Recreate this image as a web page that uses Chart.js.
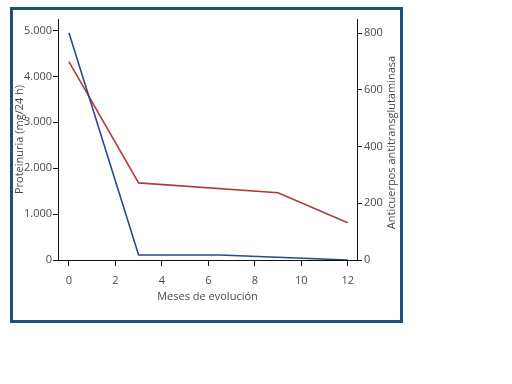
<!DOCTYPE html>
<html>
<head>
<meta charset="utf-8">
<script src="https://cdn.jsdelivr.net/npm/chart.js@4"></script>
<style>
  html, body { margin: 0; padding: 0; background: #fff; }
  #wrap { position: relative; width: 512px; height: 384px; }
  #frame { position: absolute; left: 10px; top: 7px; width: 387px; height: 310px; border: 3px solid #1d5277; }
  canvas { position: absolute; left: 0; top: 0; }
</style>
</head>
<body>
<div id="wrap">
  <div id="frame"></div>
  <canvas id="myChart" width="512" height="384"></canvas>
</div>
<script>
// Data
const proteinMonths = [0, 3, 6.5, 12];
const proteinValues = [4950, 110, 110, 0];          // mg/24 h (left axis)
const antibodyMonths = [0, 3, 9, 12];
const antibodyValues = [700, 272, 237, 131];       // right axis
const monthTicks = [0, 2, 4, 6, 8, 10, 12];
const proteinTicks = [0, 1000, 2000, 3000, 4000, 5000];
const antibodyTicks = [0, 200, 400, 600, 800];

const FONT = "'Open Sans', 'DejaVu Sans', sans-serif";
const labelColor = '#4a4a4a';

function toPoints(xs, ys) {
    return xs.map((x, i) => ({ x: x, y: ys[i] }));
}

// thousands with a dot: 5000 -> 5.000
function fmtThousands(v) {
    return String(v).replace(/\B(?=(\d{3})+(?!\d))/g, '.');
}

// right title reads bottom-to-top, Chart.js would rotate it the other way
const rightTitle = {
    id: 'rightTitle',
    afterDraw(chart) {
        const ctx = chart.ctx;
        const area = chart.chartArea;
        ctx.save();
        ctx.translate(392, (area.top + area.bottom) / 2 + 3);
        ctx.rotate(-Math.PI / 2);
        ctx.font = '11px ' + FONT;
        ctx.fillStyle = labelColor;
        ctx.textAlign = 'center';
        ctx.textBaseline = 'middle';
        ctx.fillText('Anticuerpos antitransglutaminasa', 0, 0);
        ctx.restore();
    }
};

const ctx = document.getElementById('myChart').getContext('2d');
const chart = new Chart(ctx, {
    type: 'line',
    data: {
        datasets: [
            {
                label: 'Proteinuria',
                data: toPoints(proteinMonths, proteinValues),
                borderColor: '#2b4a8b',
                borderWidth: 1.6,
                pointRadius: 0,
                tension: 0,
                yAxisID: 'y'
            },
            {
                label: 'Anticuerpos',
                data: toPoints(antibodyMonths, antibodyValues),
                borderColor: '#b23a3a',
                borderWidth: 1.6,
                pointRadius: 0,
                tension: 0,
                yAxisID: 'y1'
            }
        ]
    },
    options: {
        responsive: false,
        animation: false,
        layout: { padding: { top: 19, left: 0, right: 0, bottom: 0 } },
        plugins: {
            legend: { display: false },
            tooltip: { enabled: false }
        },
        scales: {
            x: {
                type: 'linear',
                min: -0.47,
                max: 12.4,
                afterBuildTicks: s => { s.ticks = monthTicks.map(v => ({ value: v })); },
                afterFit: s => { s.height = 124; },
                border: { display: true, color: '#111', width: 1 },
                grid: { drawOnChartArea: false, tickLength: 6, color: '#111' },
                ticks: { color: labelColor, padding: 8, font: { family: FONT, size: 11 } },
                title: {
                    display: true,
                    text: 'Meses de evolución',
                    color: labelColor,
                    font: { family: FONT, size: 11 },
                    padding: { top: 0, bottom: 81 }
                }
            },
            y: {
                position: 'left',
                min: 0,
                max: 5250,
                afterBuildTicks: s => { s.ticks = proteinTicks.map(v => ({ value: v })); },
                afterFit: s => { s.width = 58; },
                border: { display: true, color: '#111', width: 1 },
                grid: { drawOnChartArea: false, tickLength: 5, color: '#111' },
                ticks: { color: labelColor, padding: 1, font: { family: FONT, size: 11 }, callback: v => fmtThousands(v) },
                title: {
                    display: true,
                    text: 'Proteinuria (mg/24 h)',
                    color: labelColor,
                    font: { family: FONT, size: 11 },
                    padding: { top: 13, bottom: 0 }
                }
            },
            y1: {
                position: 'right',
                min: 0,
                max: 850,
                afterBuildTicks: s => { s.ticks = antibodyTicks.map(v => ({ value: v })); },
                afterFit: s => { s.width = 155; },
                border: { display: true, color: '#111', width: 1 },
                grid: { drawOnChartArea: false, tickLength: 5, color: '#111' },
                ticks: { color: labelColor, padding: 2, font: { family: FONT, size: 11 } }
            }
        }
    },
    plugins: [rightTitle]
});
</script>
</body>
</html>
